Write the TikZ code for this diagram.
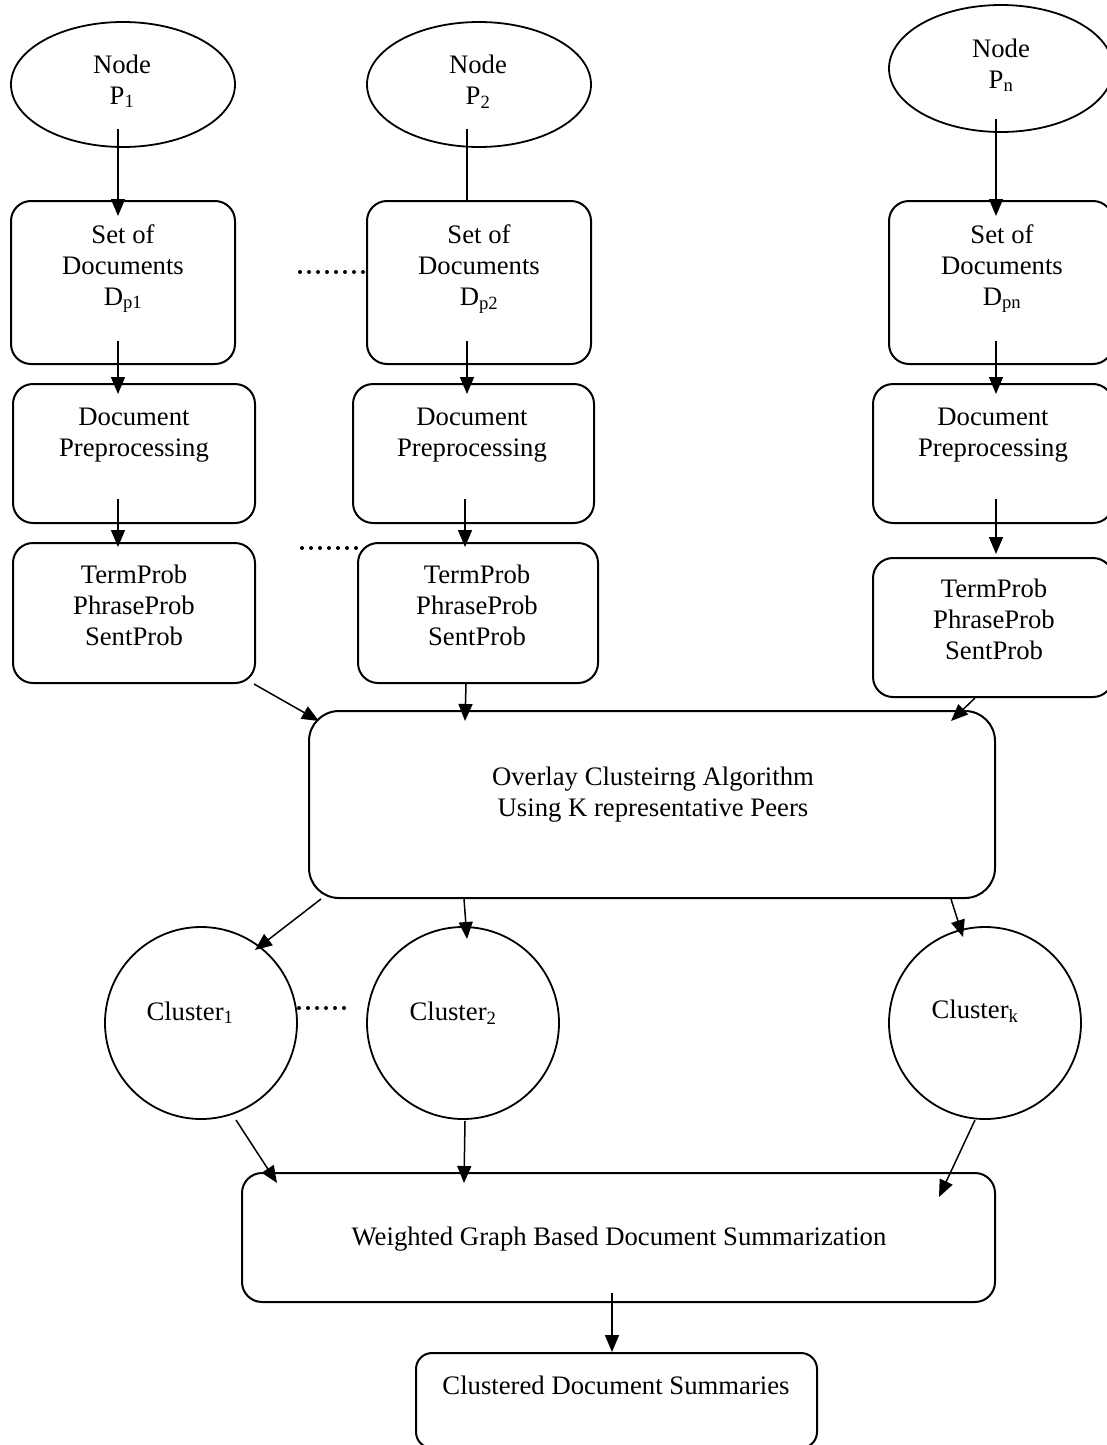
\documentclass[tikz,border=0pt]{standalone}
\usepackage{fontspec}
\setmainfont{Liberation Serif}
\usetikzlibrary{shapes.geometric,arrows.meta,calc}
\begin{document}
\begin{tikzpicture}[x=1pt,y=-1pt,
  box/.style={draw, line width=2pt, rounded corners=20pt, inner sep=0pt},
  oval/.style={draw, ellipse, line width=1.8pt, inner sep=0pt, minimum width=224pt, minimum height=125pt},
  clu/.style={draw, circle, line width=1.8pt, inner sep=0pt, minimum size=192pt},
  txt/.style={anchor=north, align=center, inner sep=0pt, font=\fontsize{26.7}{31}\selectfont},
  arr/.style={line width=1.5pt, -{Triangle[length=17pt,width=14pt]}},
  conn/.style={line width=1.5pt},
  dots/.style={line width=4pt, line cap=round, dash pattern=on 0pt off 9pt}]
\useasboundingbox (0,0) rectangle (1106,1445);

% top ellipses
\node[oval] (p1) at (123,84.5) {};
\node[oval] (p2) at (479,84.5) {};
\node[oval, minimum height=127pt] (pn) at (1001,68.5) {};
\node[txt] (p1t) at (122,51.3) {\strut Node\\\strut P\textsubscript{1}};
\node[txt] (p2t) at (478,51.3) {\strut Node\\\strut P\textsubscript{2}};
\node[txt] (pnt) at (1001,35.3) {\strut Node\\\strut P\textsubscript{n}};

% set of documents
\node[box, minimum width=224pt, minimum height=163pt] (sd1) at (123,282.5) {};
\node[box, minimum width=224pt, minimum height=163pt] (sd2) at (479,282.5) {};
\node[box, minimum width=224pt, minimum height=163pt] (sdn) at (1001,282.5) {};
\node[txt] (sd1t) at (123,221.3) {\strut Set of\\\strut Documents\\\strut D\textsubscript{p1}};
\node[txt] (sd2t) at (479,221.3) {\strut Set of\\\strut Documents\\\strut D\textsubscript{p2}};
\node[txt] (sdnt) at (1002,221.3) {\strut Set of\\\strut Documents\\\strut D\textsubscript{pn}};

% preprocessing
\node[box, minimum width=242pt, minimum height=139pt] (dp1) at (134,453.5) {};
\node[box, minimum width=241pt, minimum height=139pt] (dp2) at (473.5,453.5) {};
\node[box, minimum width=240pt, minimum height=139pt] (dpn) at (993,453.5) {};
\node[txt] (dp1t) at (134,403.3) {\strut Document\\\strut Preprocessing};
\node[txt] (dp2t) at (472,403.3) {\strut Document\\\strut Preprocessing};
\node[txt] (dpnt) at (993,403.3) {\strut Document\\\strut Preprocessing};

% probabilities
\node[box, minimum width=242pt, minimum height=140pt] (tp1) at (134,613) {};
\node[box, minimum width=240pt, minimum height=140pt] (tp2) at (478,613) {};
\node[box, minimum width=240pt, minimum height=139pt] (tpn) at (993,627.5) {};
\node[txt] (tp1t) at (134,561.3) {\strut TermProb\\\strut PhraseProb\\\strut SentProb};
\node[txt] (tp2t) at (477,561.3) {\strut TermProb\\\strut PhraseProb\\\strut SentProb};
\node[txt] (tpnt) at (994,575.3) {\strut TermProb\\\strut PhraseProb\\\strut SentProb};

% overlay clustering
\node[box, rounded corners=30pt, minimum width=686pt, minimum height=187pt] (ov) at (652,804.5) {};
\node[txt] (ovt) at (653,763.3) {\strut Overlay Clusteirng Algorithm\\\strut Using K representative Peers};

% clusters
\node[clu] (c1) at (201,1023) {};
\node[clu] (c2) at (463,1023) {};
\node[clu] (ck) at (985,1023) {};
\node[txt] (c1t) at (190,998.3) {\strut Cluster\textsubscript{1}};
\node[txt] (c2t) at (453,998.3) {\strut Cluster\textsubscript{2}};
\node[txt] (ckt) at (975,996.3) {\strut Cluster\textsubscript{k}};

% summarization
\node[box, minimum width=753pt, minimum height=129pt] (w) at (618.5,1237.5) {};
\node[txt] (wt) at (619,1223.3) {\strut Weighted Graph Based Document Summarization};
\node[box, rounded corners=16pt, minimum width=401pt, minimum height=95pt] (cl) at (616.5,1400.5) {};
\node[txt] (clt) at (616,1372.3) {\strut Clustered Document Summaries};

% dotted separators
\draw[dots] (300,272) -- (363,272);
\draw[dots] (302,548) -- (356,548);
\draw[dots] (299,1008) -- (344,1008);

% connectors
\draw[arr] ($(p1.south)+(-5,-19)$) -- ($(sd1.north)+(-5,16)$);
\draw[conn] ($(p2.south)+(-12,-19)$) -- ($(sd2.north)+(-12,0)$);
\draw[arr] ($(pn.south)+(-5,-14)$) -- ($(sdn.north)+(-5,16)$);

\draw[arr] ($(sd1.south)+(-5,-24)$) -- ($(dp1.north)+(-16,11)$);
\draw[arr] ($(sd2.south)+(-12,-24)$) -- ($(dp2.north)+(-6.5,11)$);
\draw[arr] ($(sdn.south)+(-5,-24)$) -- ($(dpn.north)+(3,11)$);

\draw[arr] ($(dp1.south)+(-16,-25)$) -- ($(tp1.north)+(-16,5)$);
\draw[arr] ($(dp2.south)+(-8.5,-25)$) -- ($(tp2.north)+(-13,5)$);
\draw[arr] ($(dpn.south)+(3,-25)$) -- ($(tpn.north)+(3,-3)$);

\draw[arr] ($(tp1.south east)+(-2,0)$) -- ($(ov.north west)+(11,11)$);
\draw[arr] ($(tp2.south)+(-12,0)$) -- ($(ov.north west)+(157,11)$);
\draw[arr] ($(tpn.south)+(-18,0)$) -- ($(ov.north east)+(-45,11)$);

\draw[arr] ($(ov.south west)+(13,0)$) -- ($(c1.center)+(54,-73)$);
\draw[arr] ($(ov.south west)+(156,0)$) -- ($(c2.center)+(4,-84)$);
\draw[arr] ($(ov.south east)+(-45,0)$) -- ($(ck.center)+(-22,-86)$);

\draw[arr] ($(c1.center)+(35,97)$) -- ($(w.north west)+(36,11)$);
\draw[arr] ($(c2.south)+(2,1)$) -- ($(w.north west)+(223,11)$);
\draw[arr] ($(ck.center)+(-10,97)$) -- ($(w.north east)+(-57,25)$);

\draw[arr] ($(w.south)+(-6.5,-10)$) -- ($(cl.north)+(-4.5,0)$);
\end{tikzpicture}
\end{document}
